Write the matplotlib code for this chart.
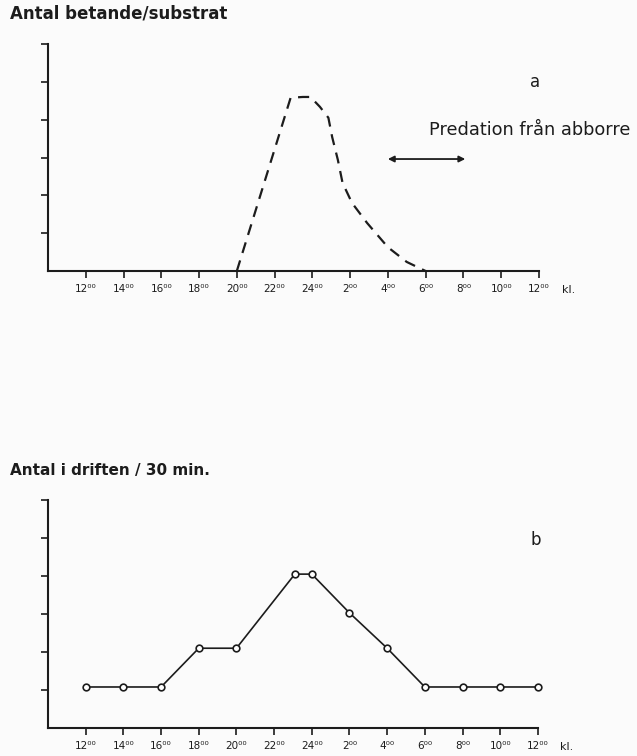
import numpy as np
import matplotlib
matplotlib.use("Agg")
import matplotlib.pyplot as plt

# time of day in hours, past midnight counted as 24+
tick_hours = [12, 14, 16, 18, 20, 22, 24, 26, 28, 30, 32, 34, 36]
tick_labels = ["12⁰⁰", "14⁰⁰", "16⁰⁰", "18⁰⁰", "20⁰⁰", "22⁰⁰", "24⁰⁰",
               "2⁰⁰", "4⁰⁰", "6⁰⁰", "8⁰⁰", "10⁰⁰", "12⁰⁰"]

# a: grazing on substrate (dashed curve)
graze_hours = [20.0, 22.85, 23.5, 23.9, 24.4, 24.85, 25.05, 25.35, 25.6,
               26.1, 26.9, 28.0, 29.0, 30.0]
graze_vals = [0.0, 4.58, 4.60, 4.60, 4.34, 4.05, 3.54, 2.94, 2.33,
              1.80, 1.27, 0.63, 0.24, 0.0]

# b: number in drift per 30 min
drift_hours = [12, 14, 16, 18, 20, 23.1, 24, 26, 28, 30, 32, 34, 36]
drift_vals = [1.08, 1.08, 1.08, 2.1, 2.1, 4.05, 4.05, 3.03, 2.1,
              1.08, 1.08, 1.08, 1.08]

ink = "#1c1c1c"
plt.rcParams['font.family'] = ['DejaVu Sans']


def style_axis(ax):
    ax.set_facecolor("none")
    ax.set_xlim(10, 36)
    ax.set_ylim(0, 6)
    for s in ["top", "right"]:
        ax.spines[s].set_visible(False)
    for s in ["left", "bottom"]:
        ax.spines[s].set_linewidth(1.5)
        ax.spines[s].set_color(ink)
    ax.spines["left"].set_bounds(0, 6)
    ax.set_xticks(tick_hours)
    ax.set_xticklabels(tick_labels, fontsize=7.5, color=ink)
    ax.set_yticks([1, 2, 3, 4, 5, 6])
    ax.set_yticklabels([])
    ax.tick_params(direction="out", length=5, width=1.2, color=ink, pad=4)
    ax.text(37.2, -0.5, "kl.", fontsize=8, color=ink, ha="left",
            va="center", clip_on=False)


fig = plt.figure(figsize=(6.37, 7.56), dpi=100)
fig.patch.set_facecolor("#fbfbfb")

ax1 = fig.add_axes([0.0754, 0.6415, 0.7706, 0.3003])
style_axis(ax1)
ax1.plot(graze_hours, graze_vals, color=ink, lw=1.6, ls=(0, (5, 3.5)),
         clip_on=False)
ax1.text(35.8, 5.0, "a", fontsize=12, color=ink, ha="center", va="center")
ax1.text(30.2, 3.73, "Predation från abborre", fontsize=12.8, color=ink,
         ha="left", va="center", clip_on=False)
ax1.annotate("", xy=(28.0, 2.96), xytext=(32.1, 2.96),
             arrowprops=dict(arrowstyle="<|-|>", color=ink, lw=1.3,
                             mutation_scale=9, shrinkA=0, shrinkB=0))

ax2 = fig.add_axes([0.0754, 0.037, 0.7690, 0.3016])
style_axis(ax2)
ax2.plot(drift_hours, drift_vals, color=ink, lw=1.2, marker="o",
         markersize=4.8, markerfacecolor="white", markeredgewidth=1.2,
         clip_on=False)
ax2.text(35.9, 4.95, "b", fontsize=12, color=ink, ha="center", va="center")

fig.text(0.016, 0.982, "Antal betande/substrat", fontsize=12,
         fontweight="bold", color=ink, ha="left", va="center")
fig.text(0.016, 0.378, "Antal i driften / 30 min.", fontsize=11,
         fontweight="bold", color=ink, ha="left", va="center")

fig.savefig("out.png", dpi=100, facecolor=fig.get_facecolor())
